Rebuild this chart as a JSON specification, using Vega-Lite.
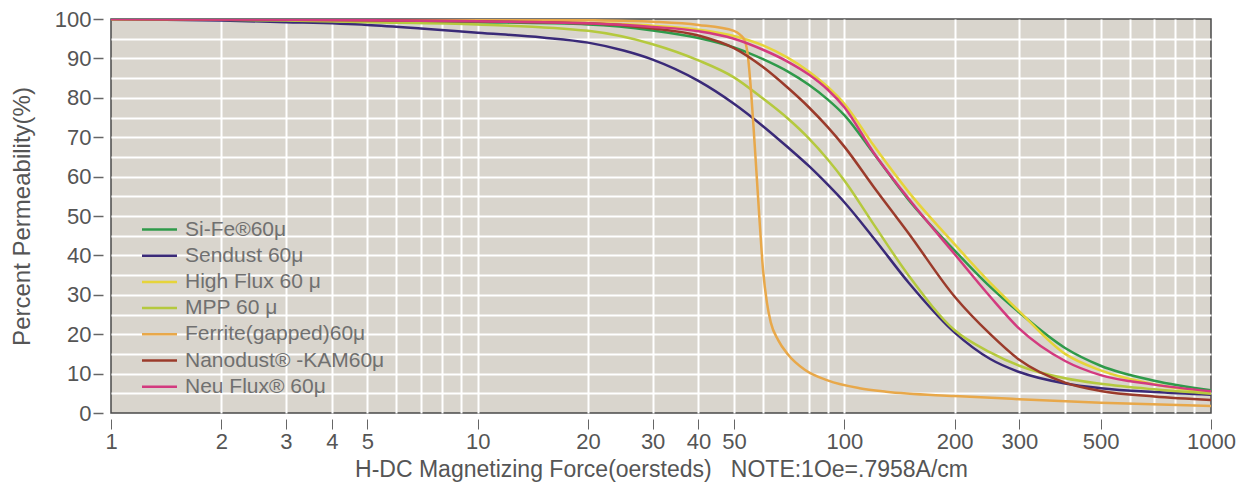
{
  "$schema": "https://vega.github.io/schema/vega-lite/v6.json",
  "width": 1100,
  "height": 394,
  "autosize": {"type": "none"},
  "padding": {"left": 111, "top": 19, "right": 25, "bottom": 74},
  "background": "white",
  "config": {
    "view": {"fill": "#d9d5cd", "stroke": "#4a4a4a", "strokeWidth": 1.5},
    "font": "Liberation Sans",
    "axis": {"labelFont": "Liberation Sans", "titleFont": "Liberation Sans", "labelColor": "#555555", "titleColor": "#555555", "tickColor": "#666666", "titleFontWeight": "normal"}
  },
  "datasets": {
    "curves": [
      {"m": "Si-Fe®60μ", "h": 1, "p": 100}, {"m": "Si-Fe®60μ", "h": 2, "p": 99.9}, {"m": "Si-Fe®60μ", "h": 3, "p": 99.8}, {"m": "Si-Fe®60μ", "h": 5, "p": 99.6}, {"m": "Si-Fe®60μ", "h": 10, "p": 99.2}, {"m": "Si-Fe®60μ", "h": 20, "p": 98.6}, {"m": "Si-Fe®60μ", "h": 30, "p": 97.1}, {"m": "Si-Fe®60μ", "h": 40, "p": 95.2}, {"m": "Si-Fe®60μ", "h": 50, "p": 92.8}, {"m": "Si-Fe®60μ", "h": 60, "p": 89.8}, {"m": "Si-Fe®60μ", "h": 70, "p": 86.7}, {"m": "Si-Fe®60μ", "h": 80, "p": 83.3}, {"m": "Si-Fe®60μ", "h": 90, "p": 79.6}, {"m": "Si-Fe®60μ", "h": 100, "p": 75.6}, {"m": "Si-Fe®60μ", "h": 120, "p": 66}, {"m": "Si-Fe®60μ", "h": 150, "p": 54}, {"m": "Si-Fe®60μ", "h": 200, "p": 41.2}, {"m": "Si-Fe®60μ", "h": 250, "p": 32}, {"m": "Si-Fe®60μ", "h": 300, "p": 25.5}, {"m": "Si-Fe®60μ", "h": 400, "p": 16.5}, {"m": "Si-Fe®60μ", "h": 500, "p": 12}, {"m": "Si-Fe®60μ", "h": 700, "p": 8.2}, {"m": "Si-Fe®60μ", "h": 1000, "p": 5.8},
      {"m": "Sendust 60μ", "h": 1, "p": 100}, {"m": "Sendust 60μ", "h": 2, "p": 99.6}, {"m": "Sendust 60μ", "h": 3, "p": 99.2}, {"m": "Sendust 60μ", "h": 5, "p": 98.5}, {"m": "Sendust 60μ", "h": 7, "p": 97.6}, {"m": "Sendust 60μ", "h": 10, "p": 96.5}, {"m": "Sendust 60μ", "h": 15, "p": 95.3}, {"m": "Sendust 60μ", "h": 20, "p": 94}, {"m": "Sendust 60μ", "h": 25, "p": 92}, {"m": "Sendust 60μ", "h": 30, "p": 89.7}, {"m": "Sendust 60μ", "h": 40, "p": 84.3}, {"m": "Sendust 60μ", "h": 50, "p": 78.5}, {"m": "Sendust 60μ", "h": 60, "p": 72.8}, {"m": "Sendust 60μ", "h": 70, "p": 67.5}, {"m": "Sendust 60μ", "h": 80, "p": 62.7}, {"m": "Sendust 60μ", "h": 90, "p": 58}, {"m": "Sendust 60μ", "h": 100, "p": 53.5}, {"m": "Sendust 60μ", "h": 120, "p": 44.5}, {"m": "Sendust 60μ", "h": 150, "p": 33}, {"m": "Sendust 60μ", "h": 200, "p": 20.4}, {"m": "Sendust 60μ", "h": 250, "p": 13.7}, {"m": "Sendust 60μ", "h": 300, "p": 10.4}, {"m": "Sendust 60μ", "h": 400, "p": 7.5}, {"m": "Sendust 60μ", "h": 500, "p": 6.3}, {"m": "Sendust 60μ", "h": 700, "p": 5.3}, {"m": "Sendust 60μ", "h": 1000, "p": 4.6},
      {"m": "High Flux 60 μ", "h": 1, "p": 100}, {"m": "High Flux 60 μ", "h": 2, "p": 100}, {"m": "High Flux 60 μ", "h": 5, "p": 99.8}, {"m": "High Flux 60 μ", "h": 10, "p": 99.6}, {"m": "High Flux 60 μ", "h": 20, "p": 99}, {"m": "High Flux 60 μ", "h": 30, "p": 98.3}, {"m": "High Flux 60 μ", "h": 40, "p": 97.3}, {"m": "High Flux 60 μ", "h": 50, "p": 95.7}, {"m": "High Flux 60 μ", "h": 60, "p": 93.3}, {"m": "High Flux 60 μ", "h": 70, "p": 90.2}, {"m": "High Flux 60 μ", "h": 80, "p": 86.7}, {"m": "High Flux 60 μ", "h": 90, "p": 82.8}, {"m": "High Flux 60 μ", "h": 100, "p": 78.5}, {"m": "High Flux 60 μ", "h": 120, "p": 68}, {"m": "High Flux 60 μ", "h": 150, "p": 56}, {"m": "High Flux 60 μ", "h": 200, "p": 42.8}, {"m": "High Flux 60 μ", "h": 250, "p": 33}, {"m": "High Flux 60 μ", "h": 300, "p": 25.8}, {"m": "High Flux 60 μ", "h": 400, "p": 15}, {"m": "High Flux 60 μ", "h": 500, "p": 10.8}, {"m": "High Flux 60 μ", "h": 700, "p": 7.3}, {"m": "High Flux 60 μ", "h": 1000, "p": 5.2},
      {"m": "MPP 60 μ", "h": 1, "p": 100}, {"m": "MPP 60 μ", "h": 2, "p": 99.8}, {"m": "MPP 60 μ", "h": 3, "p": 99.6}, {"m": "MPP 60 μ", "h": 5, "p": 99.2}, {"m": "MPP 60 μ", "h": 10, "p": 98.6}, {"m": "MPP 60 μ", "h": 20, "p": 97}, {"m": "MPP 60 μ", "h": 30, "p": 93.6}, {"m": "MPP 60 μ", "h": 40, "p": 89.5}, {"m": "MPP 60 μ", "h": 50, "p": 85.2}, {"m": "MPP 60 μ", "h": 60, "p": 79.8}, {"m": "MPP 60 μ", "h": 70, "p": 74.8}, {"m": "MPP 60 μ", "h": 80, "p": 69.7}, {"m": "MPP 60 μ", "h": 90, "p": 64.4}, {"m": "MPP 60 μ", "h": 100, "p": 59}, {"m": "MPP 60 μ", "h": 120, "p": 48}, {"m": "MPP 60 μ", "h": 150, "p": 34.8}, {"m": "MPP 60 μ", "h": 200, "p": 21}, {"m": "MPP 60 μ", "h": 250, "p": 15.4}, {"m": "MPP 60 μ", "h": 300, "p": 12}, {"m": "MPP 60 μ", "h": 400, "p": 8.8}, {"m": "MPP 60 μ", "h": 500, "p": 7.4}, {"m": "MPP 60 μ", "h": 700, "p": 6}, {"m": "MPP 60 μ", "h": 1000, "p": 4.9},
      {"m": "Ferrite(gapped)60μ", "h": 1, "p": 100}, {"m": "Ferrite(gapped)60μ", "h": 5, "p": 100}, {"m": "Ferrite(gapped)60μ", "h": 10, "p": 99.9}, {"m": "Ferrite(gapped)60μ", "h": 20, "p": 99.7}, {"m": "Ferrite(gapped)60μ", "h": 30, "p": 99.3}, {"m": "Ferrite(gapped)60μ", "h": 40, "p": 98.5}, {"m": "Ferrite(gapped)60μ", "h": 50, "p": 97}, {"m": "Ferrite(gapped)60μ", "h": 52, "p": 96}, {"m": "Ferrite(gapped)60μ", "h": 53.5, "p": 94.5}, {"m": "Ferrite(gapped)60μ", "h": 54.5, "p": 91}, {"m": "Ferrite(gapped)60μ", "h": 55.3, "p": 85}, {"m": "Ferrite(gapped)60μ", "h": 56.5, "p": 73}, {"m": "Ferrite(gapped)60μ", "h": 57.6, "p": 61}, {"m": "Ferrite(gapped)60μ", "h": 58.8, "p": 48}, {"m": "Ferrite(gapped)60μ", "h": 60, "p": 36.5}, {"m": "Ferrite(gapped)60μ", "h": 61.5, "p": 28}, {"m": "Ferrite(gapped)60μ", "h": 63, "p": 23}, {"m": "Ferrite(gapped)60μ", "h": 66, "p": 18.5}, {"m": "Ferrite(gapped)60μ", "h": 70, "p": 15}, {"m": "Ferrite(gapped)60μ", "h": 78, "p": 11}, {"m": "Ferrite(gapped)60μ", "h": 90, "p": 8.3}, {"m": "Ferrite(gapped)60μ", "h": 110, "p": 6.3}, {"m": "Ferrite(gapped)60μ", "h": 130, "p": 5.4}, {"m": "Ferrite(gapped)60μ", "h": 200, "p": 4.3}, {"m": "Ferrite(gapped)60μ", "h": 300, "p": 3.5}, {"m": "Ferrite(gapped)60μ", "h": 500, "p": 2.6}, {"m": "Ferrite(gapped)60μ", "h": 1000, "p": 1.8},
      {"m": "Nanodust® -KAM60μ", "h": 1, "p": 100}, {"m": "Nanodust® -KAM60μ", "h": 2, "p": 99.9}, {"m": "Nanodust® -KAM60μ", "h": 5, "p": 99.7}, {"m": "Nanodust® -KAM60μ", "h": 10, "p": 99.4}, {"m": "Nanodust® -KAM60μ", "h": 20, "p": 98.9}, {"m": "Nanodust® -KAM60μ", "h": 30, "p": 97.6}, {"m": "Nanodust® -KAM60μ", "h": 40, "p": 95.8}, {"m": "Nanodust® -KAM60μ", "h": 50, "p": 92.6}, {"m": "Nanodust® -KAM60μ", "h": 60, "p": 87.8}, {"m": "Nanodust® -KAM60μ", "h": 70, "p": 82.6}, {"m": "Nanodust® -KAM60μ", "h": 80, "p": 77.6}, {"m": "Nanodust® -KAM60μ", "h": 90, "p": 72.6}, {"m": "Nanodust® -KAM60μ", "h": 100, "p": 67.6}, {"m": "Nanodust® -KAM60μ", "h": 120, "p": 57.5}, {"m": "Nanodust® -KAM60μ", "h": 150, "p": 45.5}, {"m": "Nanodust® -KAM60μ", "h": 200, "p": 29.5}, {"m": "Nanodust® -KAM60μ", "h": 250, "p": 20}, {"m": "Nanodust® -KAM60μ", "h": 300, "p": 13.5}, {"m": "Nanodust® -KAM60μ", "h": 400, "p": 7.7}, {"m": "Nanodust® -KAM60μ", "h": 500, "p": 5.6}, {"m": "Nanodust® -KAM60μ", "h": 700, "p": 4.2}, {"m": "Nanodust® -KAM60μ", "h": 1000, "p": 3.3},
      {"m": "Neu Flux® 60μ", "h": 1, "p": 100}, {"m": "Neu Flux® 60μ", "h": 2, "p": 99.9}, {"m": "Neu Flux® 60μ", "h": 5, "p": 99.7}, {"m": "Neu Flux® 60μ", "h": 10, "p": 99.4}, {"m": "Neu Flux® 60μ", "h": 20, "p": 98.9}, {"m": "Neu Flux® 60μ", "h": 30, "p": 98}, {"m": "Neu Flux® 60μ", "h": 40, "p": 96.9}, {"m": "Neu Flux® 60μ", "h": 50, "p": 95}, {"m": "Neu Flux® 60μ", "h": 60, "p": 92.2}, {"m": "Neu Flux® 60μ", "h": 70, "p": 89.2}, {"m": "Neu Flux® 60μ", "h": 80, "p": 85.9}, {"m": "Neu Flux® 60μ", "h": 90, "p": 82.1}, {"m": "Neu Flux® 60μ", "h": 100, "p": 77.6}, {"m": "Neu Flux® 60μ", "h": 120, "p": 66.2}, {"m": "Neu Flux® 60μ", "h": 150, "p": 54.3}, {"m": "Neu Flux® 60μ", "h": 200, "p": 40.3}, {"m": "Neu Flux® 60μ", "h": 250, "p": 29.5}, {"m": "Neu Flux® 60μ", "h": 300, "p": 21.4}, {"m": "Neu Flux® 60μ", "h": 400, "p": 13.2}, {"m": "Neu Flux® 60μ", "h": 500, "p": 9.6}, {"m": "Neu Flux® 60μ", "h": 700, "p": 7.2}, {"m": "Neu Flux® 60μ", "h": 1000, "p": 5.5}
    ]
  },
  "data": {"name": "curves"},
  "layer": [
    {
      "mark": {"type": "point", "opacity": 0},
      "encoding": {
        "x": {"field": "h", "type": "quantitative", "scale": {"type": "log", "domain": [1, 1000]},
          "axis": {"orient": "top", "values": [2,3,4,5,6,7,8,9,10,20,30,40,50,60,70,80,90,100,200,300,400,500,600,700,800,900], "grid": true, "gridColor": "#ffffff", "gridWidth": 2, "gridOpacity": 1, "labels": false, "ticks": false, "domain": false, "title": null}},
        "y": {"field": "p", "type": "quantitative", "scale": {"domain": [0, 100]},
          "axis": {"orient": "right", "values": [5,10,15,20,25,30,35,40,45,50,55,60,65,70,75,80,85,90,95], "grid": true, "gridColor": "#ffffff", "gridWidth": 2, "gridOpacity": 1, "labels": false, "ticks": false, "domain": false, "title": null}}
      }
    },
    {
      "mark": {"type": "line", "strokeWidth": 2.5, "interpolate": "monotone", "clip": true},
      "encoding": {
        "x": {"field": "h", "type": "quantitative", "scale": {"type": "log", "domain": [1, 1000]},
          "axis": {"orient": "bottom", "values": [1,2,3,4,5,10,20,30,40,50,100,200,300,500,1000], "format": "d", "grid": false, "domain": false, "offset": 6, "tickSize": 10, "tickWidth": 1, "labelPadding": 2, "labelFontSize": 22, "labelFlush": false, "title": "H-DC Magnetizing Force(oersteds)\u00a0\u00a0\u00a0NOTE:1Oe=.7958A/cm", "titleFontSize": 23, "titlePadding": 6}},
        "y": {"field": "p", "type": "quantitative", "scale": {"domain": [0, 100]},
          "axis": {"orient": "left", "values": [0,10,20,30,40,50,60,70,80,90,100], "grid": false, "domain": false, "offset": 8, "tickSize": 10, "tickWidth": 1.5, "labelPadding": 2, "labelFontSize": 22, "title": "Percent Permeability(%)", "titleFontSize": 24, "titlePadding": 20}},
        "color": {"field": "m", "type": "nominal",
          "scale": {"domain": ["Si-Fe®60μ", "Sendust 60μ", "High Flux 60 μ", "MPP 60 μ", "Ferrite(gapped)60μ", "Nanodust® -KAM60μ", "Neu Flux® 60μ"],
                    "range": ["#2f9a4a", "#3a2a78", "#e6d43a", "#b5c93e", "#e8a84a", "#9b3b2b", "#d33a7f"]},
          "legend": {"orient": "none", "legendX": 38, "legendY": 200, "title": null, "symbolType": "M-2,0H2", "symbolSize": 306, "symbolStrokeWidth": 2.5, "labelFontSize": 21, "labelLimit": 0, "labelFont": "Liberation Sans", "labelColor": "#707070", "labelOffset": 15, "rowPadding": 4.2, "padding": 0}}
      }
    }
  ],
  "resolve": {"axis": {"x": "independent", "y": "independent"}}
}
